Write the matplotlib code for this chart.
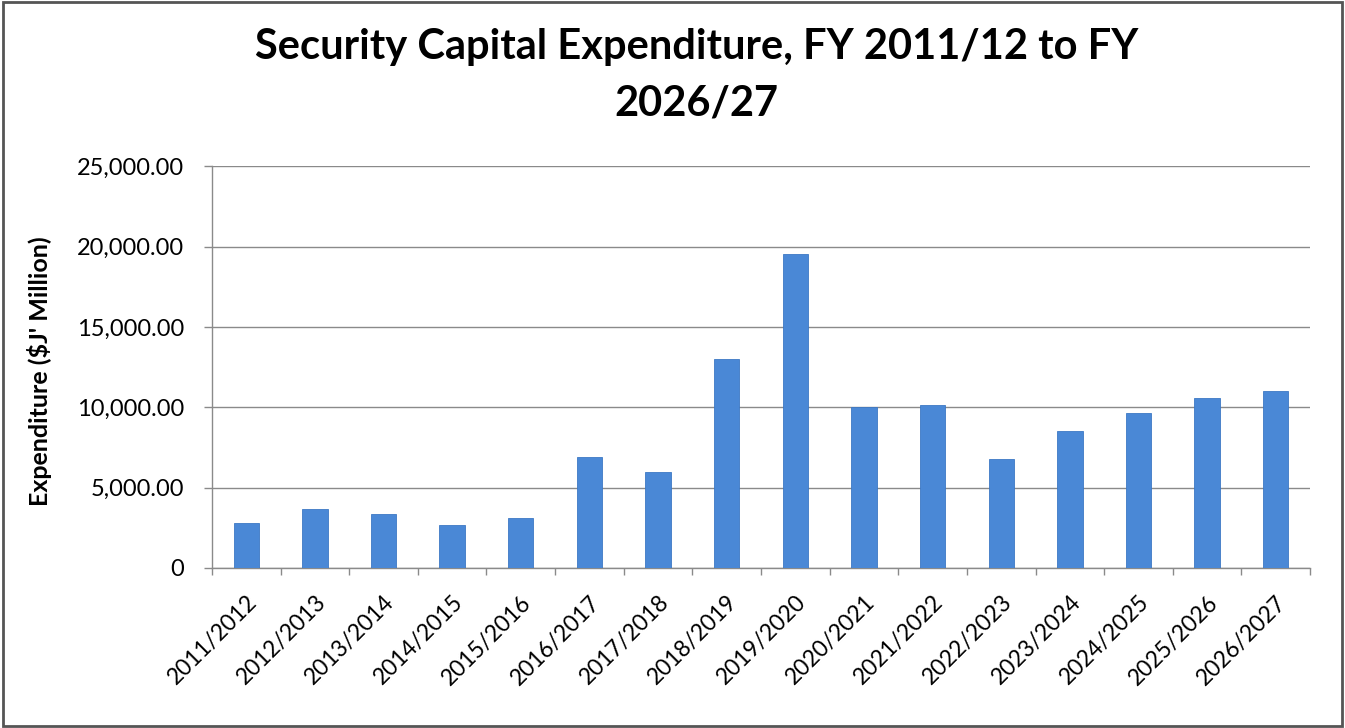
import matplotlib
matplotlib.use("Agg")
import matplotlib.pyplot as plt
from matplotlib.ticker import FuncFormatter, FixedLocator
from matplotlib.patches import Rectangle
import numpy as np

plt.rcParams['font.family'] = ['Lato', 'DejaVu Sans']

# fiscal years and capital expenditure (J$ million)
years = ["2011/2012", "2012/2013", "2013/2014", "2014/2015", "2015/2016",
         "2016/2017", "2017/2018", "2018/2019", "2019/2020", "2020/2021",
         "2021/2022", "2022/2023", "2023/2024", "2024/2025", "2025/2026",
         "2026/2027"]
expenditure = [2780, 3650, 3360, 2680, 3090, 6880, 5950, 13000, 19510,
               10030, 10160, 6780, 8540, 9620, 10590, 11030]
y_ticks = [0, 5000, 10000, 15000, 20000, 25000]

fig = plt.figure(figsize=(13.45, 7.28), dpi=100)
ax = fig.add_axes([0.1576, 0.2198, 0.8164, 0.552])

x = np.arange(len(years))
ax.bar(x, expenditure, width=0.37, color="#4a88d6", edgecolor="#3c78c4",
       linewidth=0.6, zorder=3)

ax.set_xlim(-0.5, len(years) - 0.5)
ax.set_ylim(0, 25000)
ax.set_yticks(y_ticks)
ax.yaxis.set_major_formatter(FuncFormatter(lambda v, p: "0" if v == 0 else f"{v:,.2f}"))
ax.grid(axis="y", color="#8a8a8a", linewidth=1.0, zorder=0)

ax.set_xticks(x)
ax.set_xticklabels(years, rotation=45, ha="right", rotation_mode="anchor", fontsize=16.5)
ax.tick_params(axis="x", which="major", length=0, pad=17)
ax.xaxis.set_minor_locator(FixedLocator(np.arange(-0.5, len(years), 1.0)))
ax.tick_params(axis="x", which="minor", length=5, color="#8a8a8a", width=1)
ax.tick_params(axis="y", length=6, color="#8a8a8a", width=1, labelsize=17, pad=14)

for side in ["top", "right"]:
    ax.spines[side].set_visible(False)
for side in ["left", "bottom"]:
    ax.spines[side].set_color("#8a8a8a")
    ax.spines[side].set_linewidth(1)

ax.set_ylabel("Expenditure ($J' Million)", fontsize=18, fontweight="bold")
ax.yaxis.set_label_coords(-0.146, 0.49)

fig.suptitle("Security Capital Expenditure, FY 2011/12 to FY\n2026/27",
             fontsize=30, fontweight="bold", x=0.518, y=0.962, linespacing=1.6)

# outer frame
fig.patches.append(Rectangle((0.002, 0.003), 0.996, 0.994, transform=fig.transFigure,
                             fill=False, edgecolor="#555555", linewidth=2))

fig.savefig("out.png", dpi=100)
